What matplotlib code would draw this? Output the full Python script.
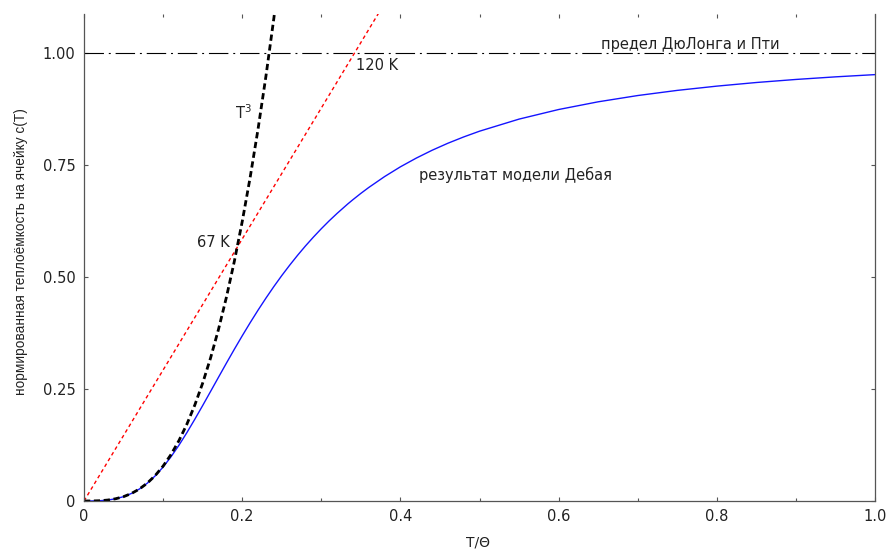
import matplotlib
matplotlib.use("Agg")
import matplotlib.pyplot as plt
from matplotlib.ticker import MultipleLocator, FixedLocator

plt.rcParams['font.family'] = ['DejaVu Sans']
plt.rcParams['mathtext.fontset'] = 'dejavusans'
plt.rcParams['lines.scale_dashes'] = False

# Debye model curve (T/Theta, c)
debye_t = [0, 0.01, 0.02, 0.03, 0.04, 0.05, 0.06, 0.07, 0.08, 0.09, 0.10, 0.11,
           0.12, 0.13, 0.14, 0.15, 0.16, 0.17, 0.18, 0.19, 0.20, 0.21, 0.22,
           0.23, 0.24, 0.25, 0.26, 0.27, 0.28, 0.29, 0.30, 0.31, 0.32, 0.3333,
           0.34, 0.35, 0.36, 0.38, 0.40, 0.42, 0.44, 0.46, 0.48, 0.50, 0.55,
           0.60, 0.65, 0.70, 0.75, 0.80, 0.85, 0.90, 0.95, 1.00]
debye_c = [0, 0.0001, 0.0006, 0.0021, 0.0050, 0.0097, 0.0168, 0.0267, 0.0397,
           0.0561, 0.0758, 0.0987, 0.1244, 0.1524, 0.1822, 0.2130, 0.2445, 0.2761,
           0.3076, 0.3385, 0.3686, 0.3978, 0.4259, 0.4528, 0.4786, 0.5031, 0.5263,
           0.5484, 0.5693, 0.5890, 0.6077, 0.6254, 0.6420, 0.6628, 0.6726, 0.6866,
           0.6998, 0.7241, 0.7459, 0.7653, 0.7828, 0.7985, 0.8126, 0.8254, 0.8524,
           0.8738, 0.8910, 0.9050, 0.9165, 0.9260, 0.9341, 0.9409, 0.9467, 0.9517]

# low temperature T^3 law
t3_t = [0, 0.01, 0.02, 0.03, 0.04, 0.05, 0.06, 0.07, 0.08, 0.09, 0.10, 0.11, 0.12,
        0.13, 0.14, 0.15, 0.16, 0.17, 0.18, 0.19, 0.20, 0.21, 0.22, 0.23, 0.24, 0.25]
t3_c = [0, 0.0001, 0.0006, 0.0021, 0.0050, 0.0097, 0.0168, 0.0267, 0.0399, 0.0568,
        0.0779, 0.1037, 0.1347, 0.1712, 0.2138, 0.2630, 0.3192, 0.3829, 0.4545,
        0.5345, 0.6234, 0.7217, 0.8298, 0.9481, 1.0773, 1.2176]

# straight line through the origin (red)
lin_t = [0, 0.38]
lin_c = [0, 1.111]

# Dulong-Petit limit
dp_t = [0, 1.0]
dp_c = [1.0, 1.0]

xticks = [0, 0.2, 0.4, 0.6, 0.8, 1.0]
xtick_labels = ['0', '0.2', '0.4', '0.6', '0.8', '1.0']
yticks = [0, 0.25, 0.5, 0.75, 1.0]
ytick_labels = ['0', '0.25', '0.50', '0.75', '1.00']

fig = plt.figure(figsize=(8.86, 5.51), dpi=100)
ax = fig.add_axes([84 / 886, 1 - 501 / 551, 791 / 886, 487 / 551])

ax.plot(dp_t, dp_c, color='black', lw=0.8, linestyle=(0, (14, 3.5, 1.4, 3.5)))
ax.plot(debye_t, debye_c, color='#1414ff', lw=1.0)
ax.plot(lin_t, lin_c, color='red', lw=1.0, linestyle=(0, (2.6, 2.2)))
ax.plot(t3_t, t3_c, color='black', lw=2.0, linestyle=(0, (4.5, 2.6)))

ax.set_xlim(0, 1.0)
ax.set_ylim(0, 1.087)

ax.xaxis.set_major_locator(FixedLocator(xticks))
ax.set_xticklabels(xtick_labels)
ax.xaxis.set_minor_locator(MultipleLocator(0.1))
ax.yaxis.set_major_locator(FixedLocator(yticks))
ax.set_yticklabels(ytick_labels)

ax.tick_params(axis='both', which='both', direction='in', top=True, right=True,
               color='#555555', labelsize=10.5, labelcolor='#222222', width=0.8)
ax.tick_params(which='major', length=3, pad=6)
ax.tick_params(which='minor', length=2)
ax.spines['top'].set_visible(False)
for s in ['left', 'bottom', 'right']:
    ax.spines[s].set_color('#555555')
    ax.spines[s].set_linewidth(0.9)

ax.set_xlabel('T/\u0398', fontsize=10, color='#222222')
ax.xaxis.set_label_coords(0.4975, -0.086)
ax.xaxis.label.set_va('center')
ax.set_ylabel('нормированная теплоёмкость на ячейку c(T)', fontsize=9.8,
              family=['Liberation Sans', 'DejaVu Sans'], color='#222222')
ax.yaxis.set_label_coords(-0.080, 0.512)
ax.yaxis.label.set_va('center')

ax.text(0.201, 0.866, 'T$^3$', fontsize=10.5, ha='center', va='center', color='#222222')
ax.text(0.164, 0.578, '67 K', fontsize=10.5, ha='center', va='center', color='#222222')
ax.text(0.37, 0.971, '120 K', fontsize=10.5, ha='center', va='center', color='#222222')
ax.text(0.545, 0.728, 'результат модели Дебая', fontsize=10.5, ha='center',
        va='center', color='#222222')
ax.text(0.767, 1.018, 'предел ДюЛонга и Пти', fontsize=10.5, ha='center', va='center',
        color='#222222')

fig.savefig('out.png', dpi=100)
